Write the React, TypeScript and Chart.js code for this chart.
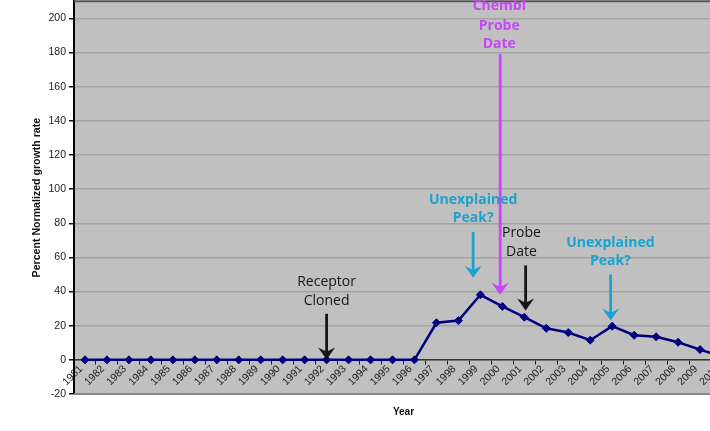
import React, { useEffect, useRef } from "react";
import { Chart, registerables } from "chart.js";

Chart.register(...registerables);

const years = [
  "1981", "1982", "1983", "1984", "1985", "1986", "1987", "1988", "1989", "1990",
  "1991", "1992", "1993", "1994", "1995", "1996", "1997", "1998", "1999", "2000",
  "2001", "2002", "2003", "2004", "2005", "2006", "2007", "2008", "2009", "2010",
];

const growth = [
  0, 0, 0, 0, 0, 0, 0, 0, 0, 0,
  0, 0, 0, 0, 0, 0, 21.7, 23.0, 38.1, 31.3,
  25.0, 18.5, 16.0, 11.5, 19.7, 14.4, 13.5, 10.3, 6.0, 2.0,
];

const yMin = -20;
const yMax = 210;
const yStep = 20;
const yLastTick = 200;

const CYAN = "#1ba3cf";
const MAGENTA = "#c846f8";
const INK = "#151515";

type Note = {
  lines: string[];
  color: string;
  bold: boolean;
  x: number;
  ys: number[];
  arrowX: number;
  arrowFrom: number;
  arrowTo: number;
};

const notes: Note[] = [
  { lines: ["Receptor", "Cloned"], color: INK, bold: false, x: 11, ys: [45.5, 34.4], arrowX: 11, arrowFrom: 27, arrowTo: 0.2 },
  { lines: ["Unexplained", "Peak?"], color: CYAN, bold: true, x: 17.67, ys: [93.4, 82.9], arrowX: 17.67, arrowFrom: 74.8, arrowTo: 48.1 },
  { lines: ["Chembl", "Probe", "Date"], color: MAGENTA, bold: true, x: 18.86, ys: [207.2, 195.5, 184.7], arrowX: 18.9, arrowFrom: 179.1, arrowTo: 38.1 },
  { lines: ["Probe", "Date"], color: INK, bold: false, x: 19.87, ys: [74.3, 63.1], arrowX: 20.06, arrowFrom: 55.3, arrowTo: 28.9 },
  { lines: ["Unexplained", "Peak?"], color: CYAN, bold: true, x: 23.92, ys: [68.4, 57.7], arrowX: 23.93, arrowFrom: 50, arrowTo: 23 },
];

const plotFrame = {
  id: "plotFrame",
  beforeDraw(chart: any) {
    const { ctx, chartArea: a } = chart;
    ctx.save();
    ctx.fillStyle = "#c0c0c0";
    ctx.fillRect(a.left, a.top, a.right - a.left, a.bottom - a.top);
    ctx.restore();
  },
  afterDraw(chart: any) {
    const { ctx, chartArea: a } = chart;
    ctx.save();
    ctx.strokeStyle = "#555";
    ctx.lineWidth = 2;
    ctx.beginPath();
    ctx.moveTo(a.left, a.top);
    ctx.lineTo(a.right, a.top);
    ctx.stroke();
    ctx.strokeStyle = "#888";
    ctx.beginPath();
    ctx.moveTo(a.left, a.bottom);
    ctx.lineTo(a.right, a.bottom);
    ctx.stroke();
    ctx.restore();
  },
};

const annotations = {
  id: "annotations",
  afterDraw(chart: any) {
    const { ctx } = chart;
    const xs = chart.scales.x;
    const ys = chart.scales.y;
    ctx.save();
    for (const n of notes) {
      ctx.fillStyle = n.color;
      ctx.font = `${n.bold ? "bold " : ""}14px "Open Sans", sans-serif`;
      ctx.textAlign = "center";
      ctx.textBaseline = "middle";
      const tx = xs.getPixelForValue(n.x);
      n.lines.forEach((l, i) => ctx.fillText(l, tx, ys.getPixelForValue(n.ys[i])));
      const ax = xs.getPixelForValue(n.arrowX);
      const y1 = ys.getPixelForValue(n.arrowFrom);
      const y2 = ys.getPixelForValue(n.arrowTo);
      const headW = 17;
      const headH = 12;
      ctx.strokeStyle = n.color;
      ctx.lineWidth = 2.8;
      ctx.beginPath();
      ctx.moveTo(ax, y1);
      ctx.lineTo(ax, y2 - headH * 0.6);
      ctx.stroke();
      ctx.beginPath();
      ctx.moveTo(ax, y2);
      ctx.lineTo(ax - headW / 2, y2 - headH);
      ctx.lineTo(ax, y2 - headH * 0.65);
      ctx.lineTo(ax + headW / 2, y2 - headH);
      ctx.closePath();
      ctx.fill();
    }
    ctx.restore();
  },
};

export default function App() {
  const ref = useRef<HTMLCanvasElement>(null);
  useEffect(() => {
    const chart = new Chart(ref.current as HTMLCanvasElement, {
      type: "line",
      data: {
        labels: years,
        datasets: [
          {
            data: growth,
            borderColor: "#00007f",
            backgroundColor: "#00007f",
            borderWidth: 2.5,
            pointStyle: "rectRot",
            pointRadius: 4,
            pointBorderWidth: 1,
            pointBackgroundColor: "#00007f",
            pointBorderColor: "#00007f",
            tension: 0,
            xAxisID: "x",
            yAxisID: "y",
          },
        ],
      },
      options: {
        animation: false,
        responsive: false,
        layout: { padding: { top: 1, right: 17, bottom: 13, left: 0 } },
        plugins: { legend: { display: false }, tooltip: { enabled: false } },
        scales: {
          x: {
            type: "category",
            position: "bottom",
            offset: true,
            grid: { display: false, drawTicks: false },
            border: { display: false },
            ticks: { display: false },
            title: {
              display: true,
              text: "Year",
              color: "#111",
              font: { family: "'Liberation Sans', Arial, sans-serif", size: 10, weight: "bold" },
              padding: { top: 12, bottom: 0 },
            },
          },
          x2: {
            type: "category",
            axis: "x",
            position: { y: 0 },
            offset: true,
            grid: { offset: true, drawOnChartArea: false, drawTicks: true, tickLength: 4, color: "#111", tickColor: "#111" },
            border: { display: true, color: "#333", width: 1.5 },
            ticks: {
              autoSkip: false,
              minRotation: 45,
              maxRotation: 45,
              padding: -1,
              labelOffset: -4,
              color: "#222",
              font: { family: "'Liberation Sans', Arial, sans-serif", size: 10.5 },
            },
          },
          y: {
            type: "linear",
            min: yMin,
            max: yMax,
            afterFit(scale: any) {
              scale.width = 74;
            },
            afterBuildTicks(scale: any) {
              scale.ticks = scale.ticks.filter((t: any) => t.value <= yLastTick);
            },
            ticks: {
              stepSize: yStep,
              padding: 3,
              color: "#222",
              font: { family: "'Liberation Sans', Arial, sans-serif", size: 10.5 },
            },
            grid: { color: "#a3a3a3", lineWidth: 1.5, tickColor: "#111", tickLength: 5 },
            border: { color: "#000", width: 2 },
            title: {
              display: true,
              text: "Percent Normalized growth rate",
              color: "#111",
              font: { family: "'Liberation Sans', Arial, sans-serif", size: 10.6, weight: "bold" },
              padding: { top: 31, bottom: 0 },
            },
          },
        },
      },
      plugins: [plotFrame, annotations],
    } as any);
    return () => chart.destroy();
  }, []);
  return (
    <div style={{ width: 750, height: 431, overflow: "hidden", position: "relative" }}>
      <style>{`html,body{margin:0;padding:0;overflow:hidden;background:#fff}`}</style>
      <canvas
        ref={ref}
        width={750}
        height={439}
        style={{ display: "block", position: "absolute", left: 0, top: -8 }}
      />
    </div>
  );
}
